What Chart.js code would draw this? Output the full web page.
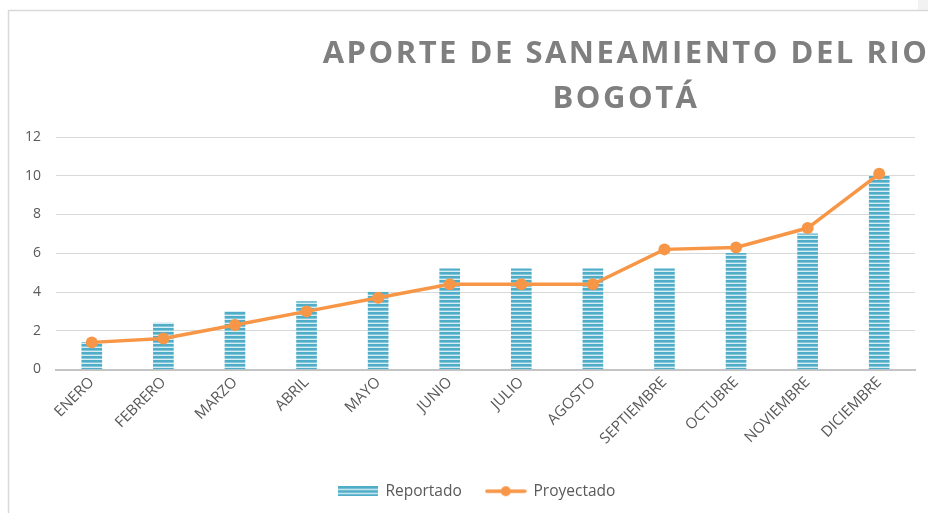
<!DOCTYPE html>
<html>
<head>
<meta charset="utf-8">
<script src="https://cdn.jsdelivr.net/npm/chart.js@4"></script>
<style>
  html, body { margin: 0; padding: 0; background: #ffffff; }
  #wrap { width: 928px; height: 513px; position: relative; }
</style>
</head>
<body>
<div id="wrap"><canvas id="c" width="928" height="513"></canvas></div>
<script>
// Monthly data for the Bogotá river sanitation contribution
const months = ['ENERO', 'FEBRERO', 'MARZO', 'ABRIL', 'MAYO', 'JUNIO', 'JULIO', 'AGOSTO', 'SEPTIEMBRE', 'OCTUBRE', 'NOVIEMBRE', 'DICIEMBRE'];
const reportado = [1.4, 2.4, 3.0, 3.5, 4.0, 5.2, 5.2, 5.2, 5.2, 6.0, 7.0, 10.0];
const proyectado = [1.4, 1.6, 2.3, 3.0, 3.7, 4.4, 4.4, 4.4, 6.2, 6.3, 7.3, 10.1];
const yTicks = [0, 2, 4, 6, 8, 10, 12];
const titleLines = ['APORTE DE SANEAMIENTO DEL RIO', 'BOGOTÁ'];
const seriesNames = ['Reportado', 'Proyectado'];

const FONT = '"Open Sans", "DejaVu Sans", sans-serif';
const TEXT = '#595959';
const BLUE = '#4fadc8';
const ORANGE = '#f79646';

// Horizontal striped fill for the bars
function stripePattern() {
  const p = document.createElement('canvas');
  p.width = 4; p.height = 4;
  const g = p.getContext('2d');
  g.fillStyle = '#d6edf4';
  g.fillRect(0, 0, 4, 4);
  g.fillStyle = BLUE;
  g.fillRect(0, 0, 4, 2.6);
  return g.createPattern(p, 'repeat');
}
const stripes = stripePattern();

// Legend icons
function barIcon() {
  const c = document.createElement('canvas');
  c.width = 40; c.height = 10;
  const g = c.getContext('2d');
  g.fillStyle = stripes;
  g.fillRect(0, 0, 40, 10);
  return c;
}
function lineIcon() {
  const c = document.createElement('canvas');
  c.width = 42; c.height = 12;
  const g = c.getContext('2d');
  g.strokeStyle = ORANGE;
  g.lineWidth = 3.5;
  g.lineCap = 'round';
  g.beginPath(); g.moveTo(2, 6); g.lineTo(40, 6); g.stroke();
  g.fillStyle = ORANGE;
  g.beginPath(); g.arc(21, 6, 5, 0, Math.PI * 2); g.fill();
  return c;
}

// Frame and title drawn around the chart
const decor = {
  id: 'decor',
  afterLayout(chart) {
    // centre the legend under the full frame width instead of the padded box
    const lg = chart.legend;
    if (lg) { lg.left += 19; lg.right += 19; }
  },
  beforeDraw(chart) {
    const ctx = chart.ctx;
    ctx.save();
    ctx.fillStyle = '#f2f2f2';
    ctx.fillRect(918, 0, 10, 10);
    ctx.strokeStyle = '#d9d9d9';
    ctx.lineWidth = 1.5;
    ctx.beginPath();
    ctx.moveTo(8.5, 520);
    ctx.lineTo(8.5, 10.5);
    ctx.lineTo(930, 10.5);
    ctx.stroke();

    ctx.fillStyle = '#7f7f7f';
    ctx.font = 'bold 31px ' + FONT;
    ctx.textAlign = 'center';
    ctx.textBaseline = 'alphabetic';
    ctx.letterSpacing = '2.5px';
    ctx.fillText(titleLines[0], 626, 63);
    ctx.fillText(titleLines[1], 626, 108);
    ctx.restore();
  }
};

new Chart(document.getElementById('c'), {
  data: {
    labels: months,
    datasets: [
      {
        type: 'line',
        label: seriesNames[1],
        data: proyectado,
        borderColor: ORANGE,
        backgroundColor: ORANGE,
        borderWidth: 3.5,
        pointRadius: 6,
        pointHoverRadius: 6,
        pointBackgroundColor: ORANGE,
        pointBorderWidth: 0,
        tension: 0,
        order: 0
      },
      {
        type: 'bar',
        label: seriesNames[0],
        data: reportado,
        backgroundColor: stripes,
        borderWidth: 0,
        barThickness: 20,
        order: 1
      }
    ]
  },
  options: {
    responsive: false,
    animation: false,
    events: [],
    layout: { padding: { top: 137, left: 0, right: 13, bottom: 4 } },
    plugins: {
      tooltip: { enabled: false },
      legend: {
        position: 'bottom',
        labels: {
          usePointStyle: true,
          pointStyleWidth: 40,
          boxHeight: 12,
          color: TEXT,
          font: { family: FONT, size: 15.5 },
          padding: 24,
          generateLabels() {
            return [
              { text: seriesNames[0], pointStyle: barIcon(), fontColor: TEXT, datasetIndex: 1, lineWidth: 0, strokeStyle: 'transparent' },
              { text: seriesNames[1], pointStyle: lineIcon(), fontColor: TEXT, datasetIndex: 0, lineWidth: 0, strokeStyle: 'transparent' }
            ];
          }
        }
      }
    },
    scales: {
      x: {
        grid: { display: false, drawTicks: false },
        border: { display: true, color: '#c4c4c4', width: 2 },
        ticks: {
          color: TEXT,
          font: { family: FONT, size: 15 },
          minRotation: 45,
          maxRotation: 45,
          padding: 4
        },
        afterFit(scale) { scale.height = 90; }
      },
      y: {
        min: 0,
        max: 12,
        afterBuildTicks(scale) { scale.ticks = yTicks.map(v => ({ value: v })); },
        grid: { color: '#d9d9d9', lineWidth: 1, drawTicks: false },
        border: { display: false },
        ticks: {
          color: TEXT,
          font: { family: FONT, size: 14 },
          padding: 15
        },
        afterFit(scale) { scale.width = 56; }
      }
    }
  },
  plugins: [decor]
});
</script>
</body>
</html>
